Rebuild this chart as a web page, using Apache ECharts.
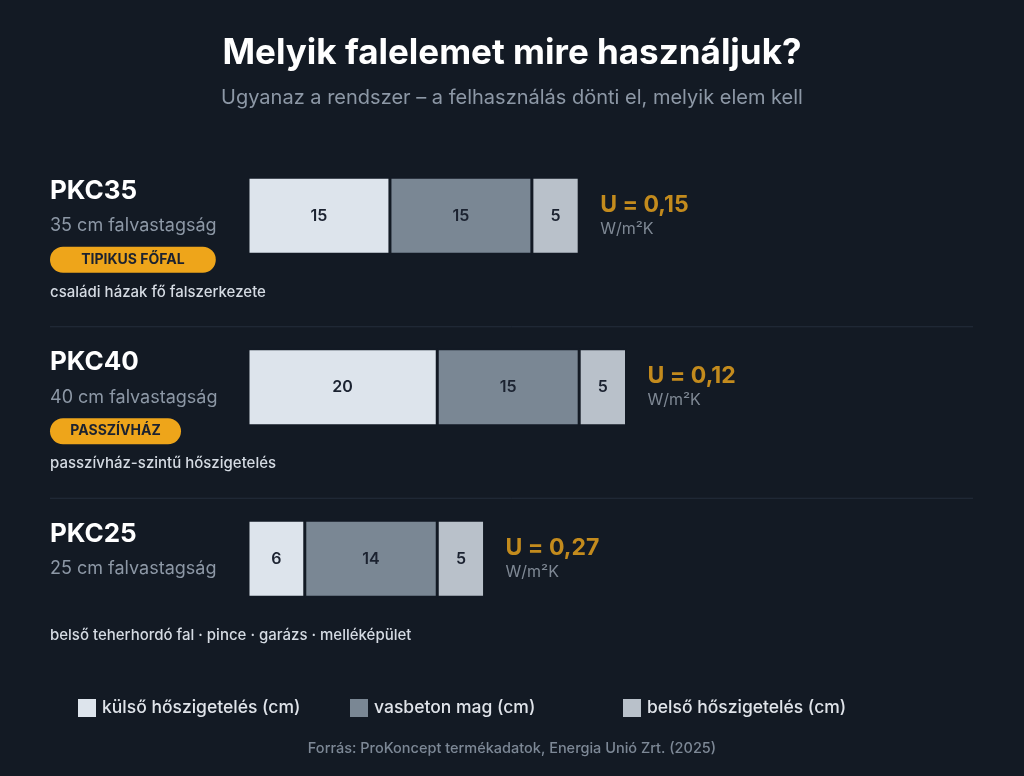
<!DOCTYPE html>
<html><head><meta charset="utf-8">
<script src="https://cdn.jsdelivr.net/npm/echarts@6/dist/echarts.min.js"></script>
<style>html,body{margin:0;background:#131a24}#c{width:1024px;height:776px}</style>
</head><body><div id="c"></div>
<script>
var products = ['PKC35', 'PKC40', 'PKC25'];
var thickness = ['35 cm falvastagság', '40 cm falvastagság', '25 cm falvastagság'];
var badges = ['TIPIKUS FŐFAL', 'PASSZÍVHÁZ', ''];
var uses = ['családi házak fő falszerkezete', 'passzívház-szintű hőszigetelés', 'belső teherhordó fal · pince · garázs · melléképület'];
var outerIns = [15, 20, 6];
var core = [15, 15, 14];
var innerIns = [5, 5, 5];
var uValues = ['0,15', '0,12', '0,27'];
var seriesNames = ['külső hőszigetelés (cm)', 'vasbeton mag (cm)', 'belső hőszigetelés (cm)'];
var colors = ['#dde4ec', '#7a8794', '#b9c1ca'];

var chart = echarts.init(document.getElementById('c'));
var F = 'Inter, "Noto Sans", sans-serif';

function barSeries(i, data) {
	return {
		name: seriesNames[i], type: 'bar', stack: 'w', data: data, barWidth: 77,
		itemStyle: {color: colors[i], borderColor: '#131a24', borderWidth: 1.5},
		label: {show: true, position: 'inside', color: '#1b2230', fontSize: 16, fontWeight: 600, fontFamily: F}
	};
}

var graphics = [];
var bandTop = 130, band = 171.5;
products.forEach(function(p, i) {
	var cy = bandTop + band * i + band / 2;
	graphics.push({type: 'text', left: 50, top: cy - 38, style: {text: p, fill: '#ffffff', font: 'bold 26px ' + F}});
	graphics.push({type: 'text', left: 50, top: cy + 1, style: {text: thickness[i], fill: '#8d98a6', font: '18px ' + F}});
	if (badges[i]) {
		var w = badges[i].length * 11.6 + 15;
		graphics.push({type: 'rect', shape: {x: 50, y: cy + 31, width: w, height: 26, r: 13}, style: {fill: '#eea51a'}});
		graphics.push({type: 'text', x: 50 + w / 2, y: cy + 44, style: {text: badges[i], fill: '#1b2230', font: 'bold 14px ' + F, align: 'center', verticalAlign: 'middle'}});
	}
	graphics.push({type: 'text', left: 50, top: cy + 69, style: {text: uses[i], fill: '#d5dbe3', font: '500 15px ' + F}});
	if (i < 2) graphics.push({type: 'line', shape: {x1: 50, y1: cy + 111, x2: 973, y2: cy + 111}, style: {stroke: '#252e3b', lineWidth: 1}});
});
graphics.push({type: 'text', left: 'center', top: 36, style: {text: 'Melyik falelemet mire használjuk?', fill: '#ffffff', font: 'bold 35px ' + F}});
graphics.push({type: 'text', left: 'center', top: 88, style: {text: 'Ugyanaz a rendszer – a felhasználás dönti el, melyik elem kell', fill: '#8d98a6', font: '20px ' + F}});
graphics.push({type: 'text', left: 'center', top: 741, style: {text: 'Forrás: ProKoncept termékadatok, Energia Unió Zrt. (2025)', fill: '#7d8896', font: '500 14.5px ' + F}});

var legendLeft = [76, 348, 621];
var legends = seriesNames.map(function(n, i) {
	return {data: [n], left: legendLeft[i], top: 697, padding: 0, itemWidth: 20, itemHeight: 20, itemGap: 12, icon: 'rect',
		textStyle: {color: '#e0e4ea', fontSize: 17.5, fontWeight: 500, fontFamily: F}, selectedMode: false};
});

var totals = products.map(function(p, i) { return [outerIns[i] + core[i] + innerIns[i], i, uValues[i]]; });

chart.setOption({
	backgroundColor: '#131a24',
	grid: {left: 248, width: 757, top: bandTop, height: band * 3},
	xAxis: {type: 'value', min: 0, max: 80, show: false},
	yAxis: {type: 'category', data: products, inverse: true, show: false},
	legend: legends,
	graphic: graphics,
	series: [barSeries(0, outerIns), barSeries(1, core), barSeries(2, innerIns), {
		type: 'scatter', data: totals, symbolSize: 0, silent: true,
		label: {show: true, position: 'right', distance: 21, formatter: function(p) { return '{u|U = ' + p.value[2] + '}\n{n|W/m²K}'; },
			rich: {u: {color: '#f0a81c', fontSize: 23, fontWeight: 'bold', fontFamily: F, lineHeight: 26, padding: [0, 0, 2, 0]},
				n: {color: '#9aa4b0', fontSize: 16, fontFamily: F, lineHeight: 20}}}
	}]
});
</script></body></html>
